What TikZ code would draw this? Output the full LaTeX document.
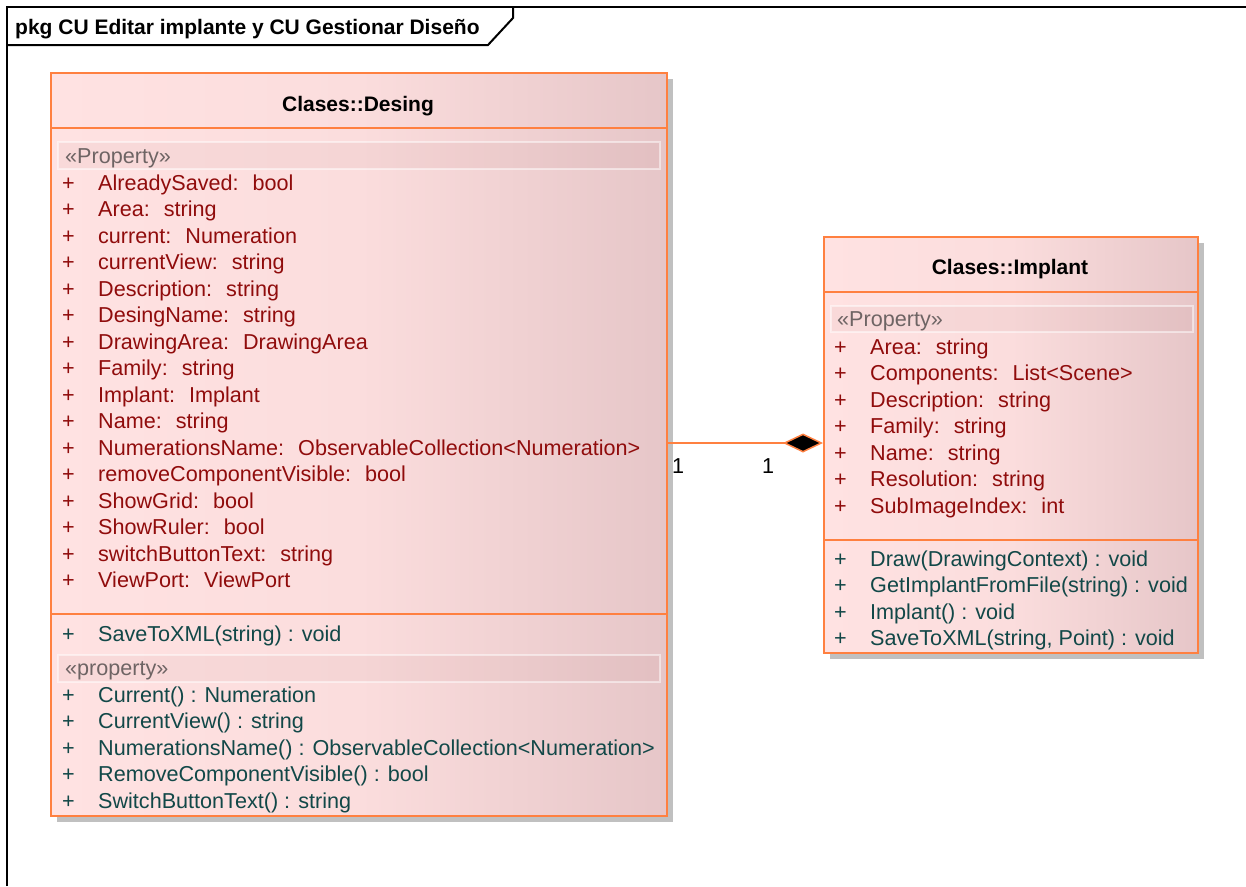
\documentclass[tikz,border=0pt]{standalone}
\usepackage{fontspec}
\setmainfont{Liberation Sans}
\usetikzlibrary{arrows.meta}

\definecolor{umlorange}{HTML}{FF8040}
\definecolor{shadowgray}{HTML}{C0C0C0}
\definecolor{fillleft}{HTML}{FFE2E2}
\definecolor{fillmid}{HTML}{FBDDDD}
\definecolor{fillright}{HTML}{E6C6C8}
\definecolor{attrred}{HTML}{900C0C}
\definecolor{opteal}{HTML}{124848}
\definecolor{stereogray}{HTML}{6E6464}
\definecolor{bandfill}{HTML}{B07070}

% one member row: visibility mark, then the member text
\newcommand\mrow[1]{\makebox[36pt][l]{+}#1}

\tikzset{
  umlfont/.style={font=\fontsize{21.6}{25}\selectfont},
  boldfont/.style={font=\fontsize{21}{25}\selectfont\bfseries},
  frameline/.style={draw=black, line width=2pt},
  classbox/.style={rectangle, draw=umlorange, line width=1.5pt, inner sep=0pt,
    anchor=north west, left color=fillleft, right color=fillright, middle color=fillmid},
  shadowbox/.style={fill=shadowgray},
  sepline/.style={draw=umlorange, line width=1.5pt},
  stereoband/.style={fill=bandfill, fill opacity=0.07, draw=white, draw opacity=0.5, line width=1.5pt},
  classtitle/.style={boldfont, anchor=base, inner sep=0pt},
  stereotext/.style={umlfont, anchor=base west, inner sep=0pt, text=stereogray},
  attr/.style={umlfont, anchor=base west, inner sep=0pt, text=attrred},
  oper/.style={umlfont, anchor=base west, inner sep=0pt, text=opteal},
  mult/.style={umlfont, anchor=base, inner sep=0pt, text=black},
  composition/.style={draw=umlorange, line width=1.5pt,
    -{Diamond[length=40pt, width=19pt, fill=black, line join=miter]}},
}

\begin{document}
\begin{tikzpicture}[x=1pt, y=-1pt]
  \useasboundingbox (0,0) rectangle (1246,886);
  \fill[white] (0,0) rectangle (1246,886);

  % package frame and its name tab
  \draw[frameline] (7,886) -- (7,7) -- (1246,7);
  \draw[frameline] (7,45) -- (488,45) -- (513,18) -- (513,7);
  \node[boldfont, anchor=base west, inner sep=0pt]
    (frame-title) at (15,34) {pkg CU Editar implante y CU Gestionar Diseño};

  % ---------------- Clases::Desing ----------------
  \fill[shadowbox] (57,79) rectangle (673,822);
  \node[classbox, minimum width=616pt, minimum height=743pt] (desing) at (50,72) {};
  \node[classtitle] (desing-title) at (358,111) {Clases::Desing};
  \draw[sepline] (desing.west |- 0,128) -- (desing.east |- 0,128);

  \draw[stereoband] (58,142) rectangle (660,169);
  \node[stereotext] (desing-st1) at (65,163) {«Property»};

  \node[attr] (d-a1)  at (62,190.3) {\mrow{AlreadySaved:~ bool}};
  \node[attr] (d-a2)  at (62,216.8) {\mrow{Area:~ string}};
  \node[attr] (d-a3)  at (62,243.3) {\mrow{current:~ Numeration}};
  \node[attr] (d-a4)  at (62,269.8) {\mrow{currentView:~ string}};
  \node[attr] (d-a5)  at (62,296.3) {\mrow{Description:~ string}};
  \node[attr] (d-a6)  at (62,322.8) {\mrow{DesingName:~ string}};
  \node[attr] (d-a7)  at (62,349.3) {\mrow{DrawingArea:~ DrawingArea}};
  \node[attr] (d-a8)  at (62,375.8) {\mrow{Family:~ string}};
  \node[attr] (d-a9)  at (62,402.3) {\mrow{Implant:~ Implant}};
  \node[attr] (d-a10) at (62,428.8) {\mrow{Name:~ string}};
  \node[attr] (d-a11) at (62,455.3) {\mrow{NumerationsName:~ ObservableCollection<Numeration>}};
  \node[attr] (d-a12) at (62,481.8) {\mrow{removeComponentVisible:~ bool}};
  \node[attr] (d-a13) at (62,508.3) {\mrow{ShowGrid:~ bool}};
  \node[attr] (d-a14) at (62,534.8) {\mrow{ShowRuler:~ bool}};
  \node[attr] (d-a15) at (62,561.3) {\mrow{switchButtonText:~ string}};
  \node[attr] (d-a16) at (62,587.8) {\mrow{ViewPort:~ ViewPort}};

  \draw[sepline] (desing.west |- 0,614) -- (desing.east |- 0,614);
  \node[oper] (d-o1) at (62,641) {\mrow{SaveToXML(string) : void}};

  \draw[stereoband] (58,655) rectangle (660,682);
  \node[stereotext] (desing-st2) at (65,675) {«property»};

  \node[oper] (d-o2) at (62,702)   {\mrow{Current() : Numeration}};
  \node[oper] (d-o3) at (62,728.6) {\mrow{CurrentView() : string}};
  \node[oper] (d-o4) at (62,755.2) {\mrow{NumerationsName() : ObservableCollection<Numeration>}};
  \node[oper] (d-o5) at (62,781.8) {\mrow{RemoveComponentVisible() : bool}};
  \node[oper] (d-o6) at (62,808.4) {\mrow{SwitchButtonText() : string}};

  % ---------------- Clases::Implant ----------------
  \fill[shadowbox] (830,243) rectangle (1204,659);
  \node[classbox, minimum width=374pt, minimum height=416pt] (implant) at (823,236) {};
  \node[classtitle] (implant-title) at (1010,274) {Clases::Implant};
  \draw[sepline] (implant.west |- 0,292) -- (implant.east |- 0,292);

  \draw[stereoband] (831,306) rectangle (1193,332);
  \node[stereotext] (implant-st1) at (837,326) {«Property»};

  \node[attr] (i-a1) at (834,354)   {\mrow{Area:~ string}};
  \node[attr] (i-a2) at (834,380.5) {\mrow{Components:~ List<Scene>}};
  \node[attr] (i-a3) at (834,407)   {\mrow{Description:~ string}};
  \node[attr] (i-a4) at (834,433.5) {\mrow{Family:~ string}};
  \node[attr] (i-a5) at (834,460)   {\mrow{Name:~ string}};
  \node[attr] (i-a6) at (834,486.5) {\mrow{Resolution:~ string}};
  \node[attr] (i-a7) at (834,513)   {\mrow{SubImageIndex:~ int}};

  \draw[sepline] (implant.west |- 0,540) -- (implant.east |- 0,540);
  \node[oper] (i-o1) at (834,566)   {\mrow{Draw(DrawingContext) : void}};
  \node[oper] (i-o2) at (834,592.5) {\mrow{GetImplantFromFile(string) : void}};
  \node[oper] (i-o3) at (834,619)   {\mrow{Implant() : void}};
  \node[oper] (i-o4) at (834,645.5) {\mrow{SaveToXML(string, Point) : void}};

  % ---------------- composition Desing <>-- Implant ----------------
  \coordinate (link) at (implant.west |- 0,443);
  \draw[composition] (desing.east |- link) -- (link);
  \node[mult] (mult-desing)  at (678,473) {1};
  \node[mult] (mult-implant) at (768,473) {1};
\end{tikzpicture}
\end{document}
